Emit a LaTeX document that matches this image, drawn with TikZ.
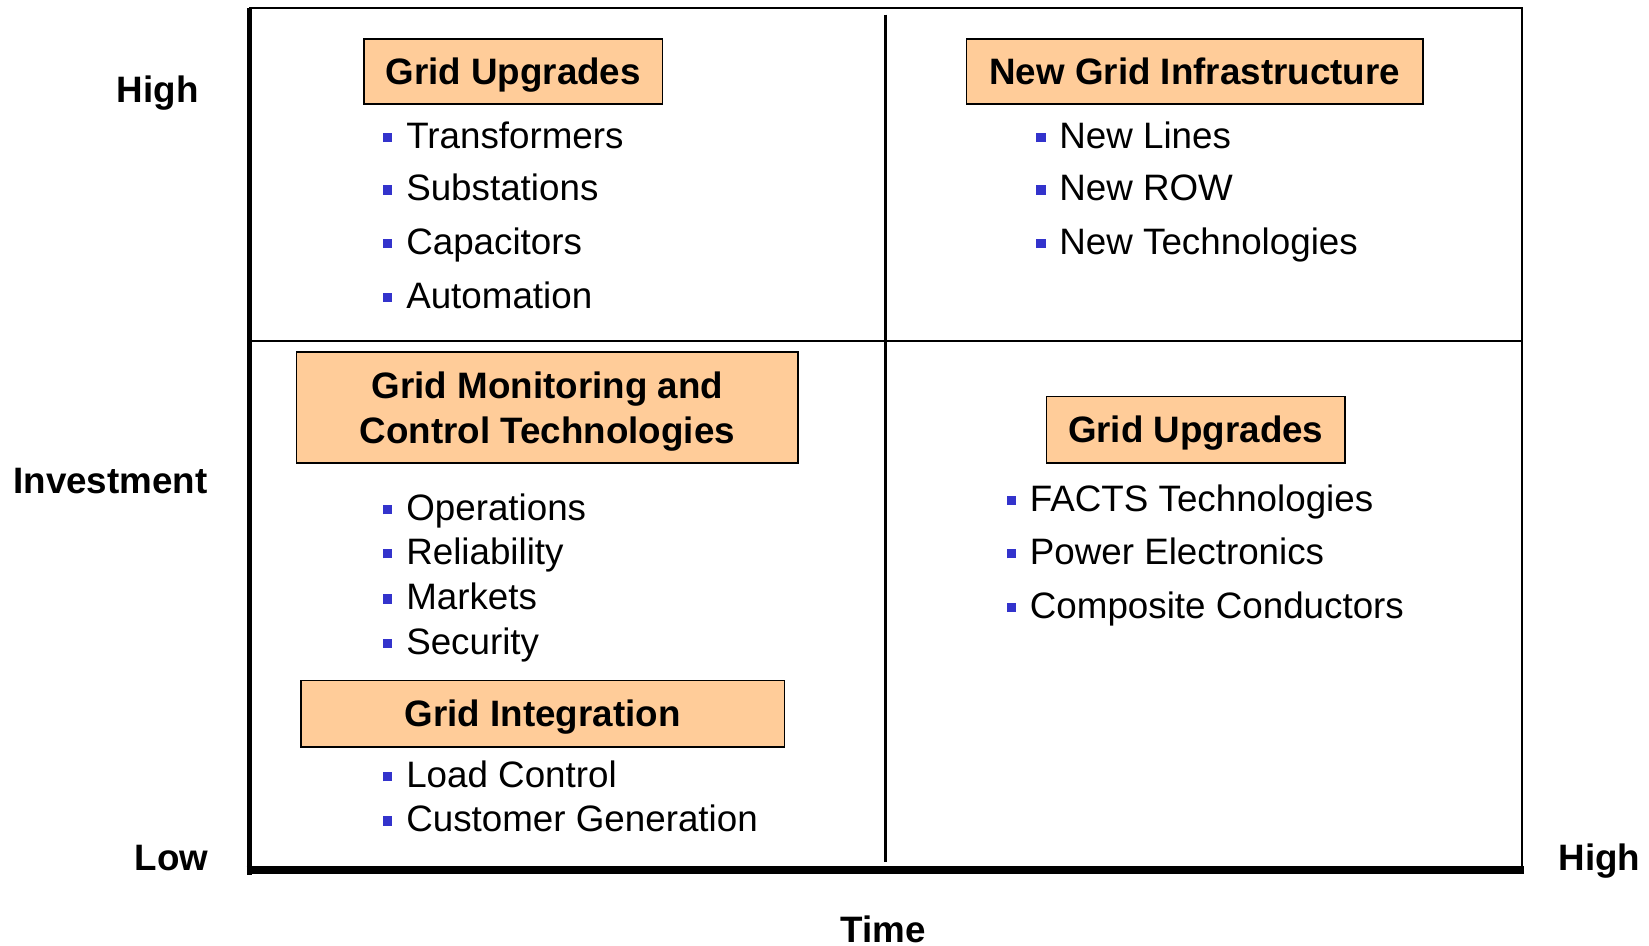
\documentclass[tikz,border=0pt]{standalone}
\usepackage{fontspec}
\setmainfont{Liberation Sans}
\usepackage{tikz}
\usetikzlibrary{positioning}

\definecolor{boxfill}{HTML}{FFCC99}
\definecolor{bulletblue}{HTML}{3333CC}
\newcommand{\chartfont}{\fontsize{19.9}{24.5}\selectfont}
\newcommand{\bsq}{\textcolor{bulletblue}{\rule[3.4pt]{5pt}{5pt}}\hspace{7.5pt}}

\tikzset{
  hdr/.style={draw, line width=0.9pt, fill=boxfill, font=\chartfont\bfseries, align=center,
    inner sep=0pt, text height=14.3pt, text depth=0pt},
  itm/.style={anchor=base west, inner sep=0pt, font=\chartfont},
  axlbl/.style={font=\chartfont\bfseries, inner sep=0pt, text height=14.3pt, text depth=0pt}
}

\begin{document}
\begin{tikzpicture}[x=0.02cm, y=-0.02cm]
\useasboundingbox (0,0) rectangle (1568,899);
% frame of the chart
\coordinate (nw) at (237,8);
\coordinate (ne) at (1447,8);
\coordinate (se) at (1447,827);
\coordinate (sw) at (237,827);
\draw[line width=1.1pt] (nw) -- (ne) -- (se);
\draw[line width=1.1pt] (237,324) -- (1447,324);
\draw[line width=1.1pt] (842,14) -- (842,820);
\draw[line width=2.8pt] (nw) -- ([yshift=-0.1cm]sw);
\draw[line width=4.5pt] ([xshift=-0.05cm]sw) -- ([xshift=0.05cm]se);

% axis labels
\node[axlbl] (yhigh) at (150,85) {High};
\node[axlbl] (yname) at (105,457) {Investment};
\node[axlbl] (ylow) at (163,815) {Low};
\node[axlbl] (xhigh) at (1521,815) {High};
\node[axlbl] (xname) at (840,884) {Time};

% upper left
\node[hdr, minimum width=5.68cm, minimum height=1.24cm] (upg) at (488,68) {Grid Upgrades};
\node[itm] (upg1) at (364,141) {\bsq Transformers};
\node[itm] (upg2) at (364,191) {\bsq Substations};
\node[itm] (upg3) at (364,242) {\bsq Capacitors};
\node[itm] (upg4) at (364,293) {\bsq Automation};

% upper right
\node[hdr, minimum width=8.68cm, minimum height=1.24cm] (infra) at (1136,68) {New Grid Infrastructure};
\node[itm] (infra1) at (985,141) {\bsq New Lines};
\node[itm] (infra2) at (985,191) {\bsq New ROW};
\node[itm] (infra3) at (985,242) {\bsq New Technologies};

% lower left
\node[hdr, text height=38.8pt, minimum width=9.54cm, minimum height=2.1cm] (mon) at (520.5,387.5) {Grid Monitoring and\\Control Technologies};
\node[itm] (mon1) at (364,495) {\bsq Operations};
\node[itm] (mon2) at (364,537) {\bsq Reliability};
\node[itm] (mon3) at (364,580) {\bsq Markets};
\node[itm] (mon4) at (364,622) {\bsq Security};

\node[hdr, minimum width=9.2cm, minimum height=1.26cm] (integ) at (516,678.5) {Grid Integration};
\node[itm] (integ1) at (364,749) {\bsq Load Control};
\node[itm] (integ2) at (364,791) {\bsq Customer Generation};

% lower right
\node[hdr, minimum width=5.68cm, minimum height=1.26cm] (upgb) at (1137,408.5) {Grid Upgrades};
\node[itm] (upgb1) at (957,486) {\bsq FACTS Technologies};
\node[itm] (upgb2) at (957,537) {\bsq Power Electronics};
\node[itm] (upgb3) at (957,588) {\bsq Composite Conductors};
\end{tikzpicture}
\end{document}
